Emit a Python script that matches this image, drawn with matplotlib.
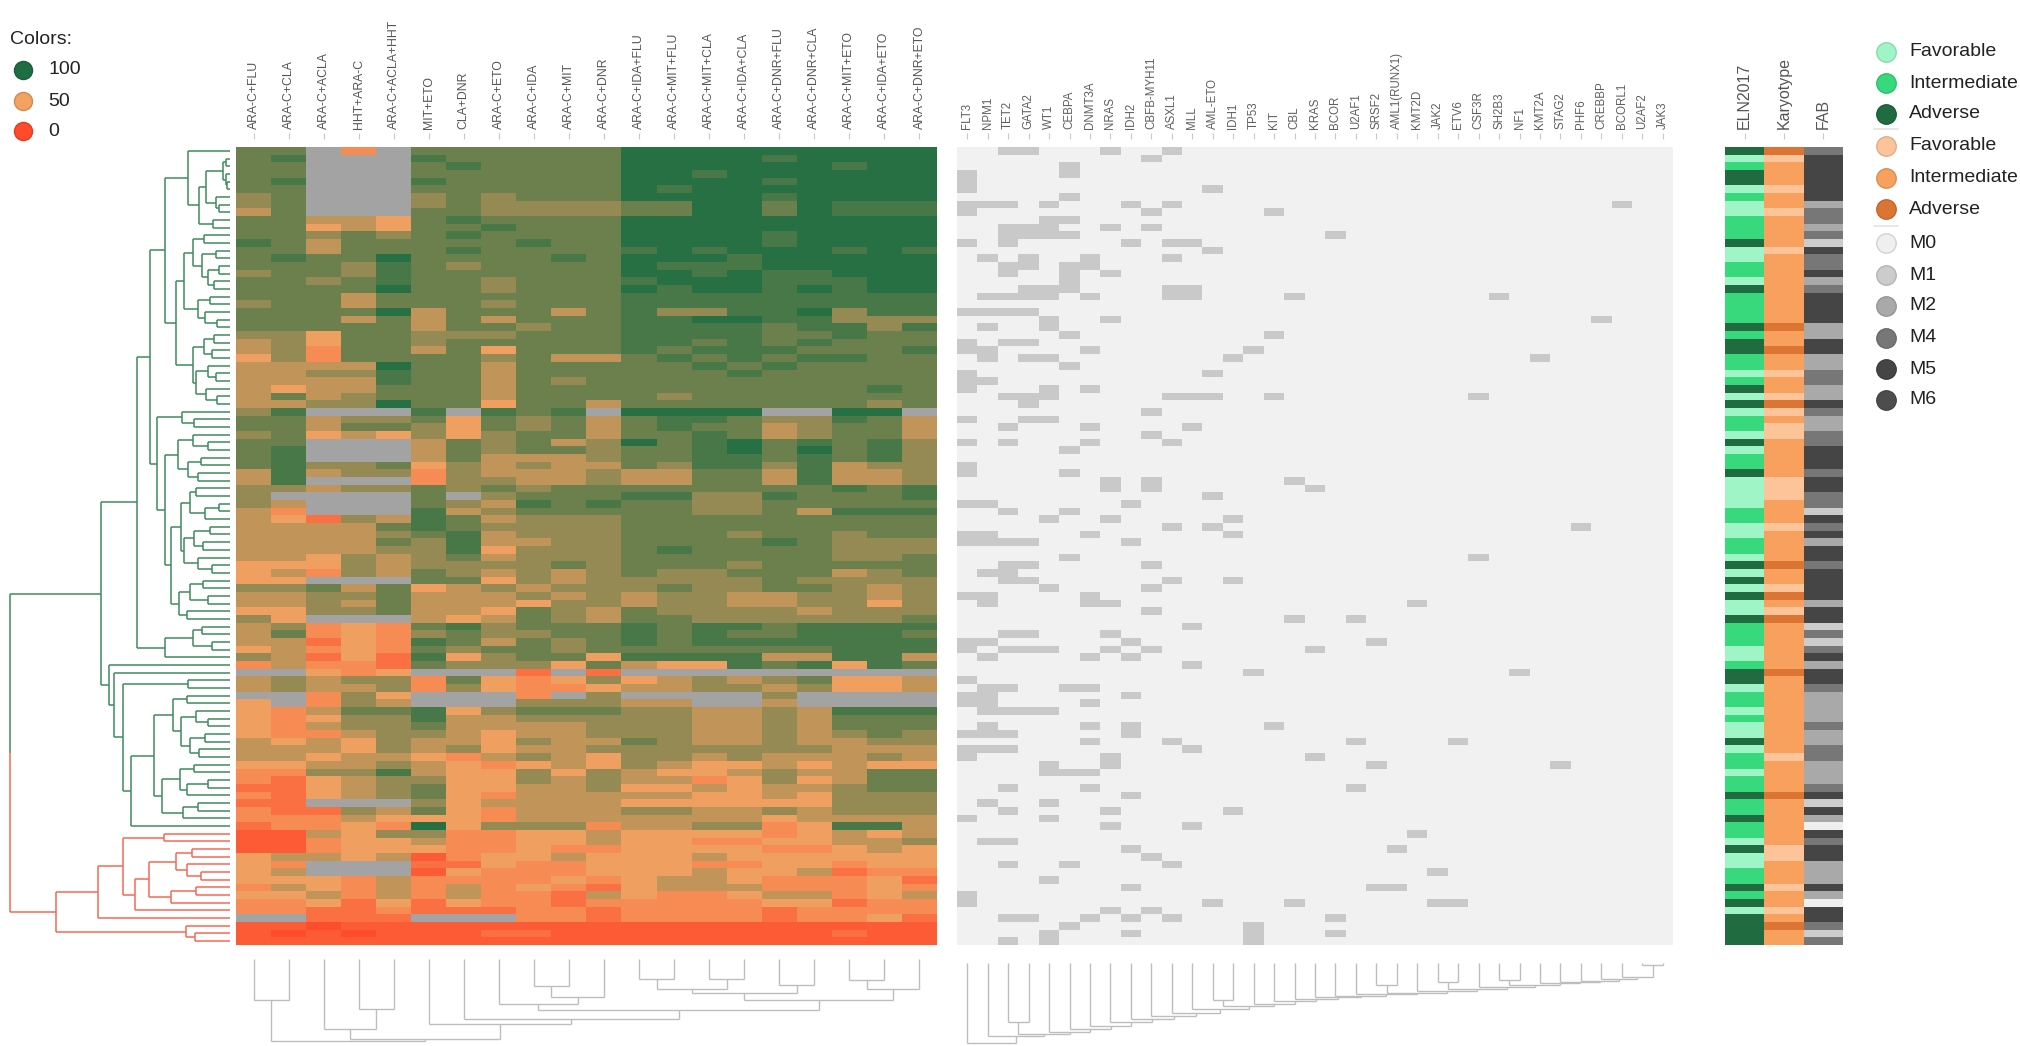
import numpy as np
import matplotlib
matplotlib.use('Agg')
import matplotlib.pyplot as plt
from matplotlib.colors import LinearSegmentedColormap, to_rgb
from matplotlib.collections import LineCollection

plt.rcParams['font.family'] = ['Liberation Sans', 'DejaVu Sans']

# ---------------- data ----------------
DRUGS = ['ARA-C+FLU', 'ARA-C+CLA', 'ARA-C+ACLA', 'HHT+ARA-C', 'ARA-C+ACLA+HHT',
         'MIT+ETO', 'CLA+DNR', 'ARA-C+ETO', 'ARA-C+IDA', 'ARA-C+MIT', 'ARA-C+DNR',
         'ARA-C+IDA+FLU', 'ARA-C+MIT+FLU', 'ARA-C+MIT+CLA', 'ARA-C+IDA+CLA',
         'ARA-C+DNR+FLU', 'ARA-C+DNR+CLA', 'ARA-C+MIT+ETO', 'ARA-C+IDA+ETO',
         'ARA-C+DNR+ETO']

# response level per cell (digit -> value via LEVEL_VALUES), 'x' = missing
LEVEL_VALUES = {'0': 2, '1': 10, '2': 22, '3': 38, '4': 51, '5': 62,
                '6': 72, '7': 82, '8': 90, '9': 98}
DRUG_ROWS = [
    "77x3x777777999999999", "78xxx877777999989999", "77xxx787777999999899",
    "77xxx777777998999999", "78xxx877777999989999", "77xxx777777989999999",
    "67xxx676777999989999", "67xxx676666779979888", "57xxx776666779979888",
    "77554787777999999999", "77454778777999999999", "77676787777999989999",
    "87577777877999989999", "77577787777898999898", "78779777787999899999",
    "77768767777988899999", "67768777777998988999", "77678776777899988899",
    "77779776777989989899", "77757777777888888888", "67757776777888888888",
    "77779577757866889688", "77757575777889988666", "77777577677888878868",
    "66477666777888877877", "56477677777887878777", "56377574777878887778",
    "46377776755787878877", "55559775777778787777", "55668775777777877777",
    "55558775767777777777", "54557775777777777787", "57567775777767777777",
    "55669774775777777767", "68xxx8x878x9999xx99x", "77566747675788766875",
    "77577647675787756775", "67454646775778756775", "77xxx576756978978786",
    "78xxx576776778979786", "78xxx575556778878786", "78667465655768868566",
    "58566365556557758556", "58xxx366556557758556", "66566767677777777878",
    "6xxxx7x6777886687778", "65xxx765878776677777", "53xxx856777776675888",
    "54265875666777777777", "55557876666777777777", "55556785666777677677",
    "55557685566777787666", "55556684666787777666", "55465675666777777667",
    "44465666676777677777", "45365765656766777567", "44xxx774656666676666",
    "66757456566676677656", "55667555656566556656", "55657555466566556646",
    "44667554765766665666", "64xxx545765776666667", "56343786777878878888",
    "57343676677878778887", "55243875767878888888", "45343767767777777888",
    "65242846774888855885", "35332766647544878487", "xx434xxx2x2xxxxxxxxx",
    "56566374346456567445", "56556364334556656445", "xx364xxx3x6xxxx6xxxx",
    "4x365xxx66655xx5xxxx", "43577846777665565888", "43466855666665565777",
    "43566755556665565777", "43356654556665565676", "54546554655765565566",
    "55546564556666666555", "55455435654665655565", "44556543454654454544",
    "33668544646544565577", "32456644656553464577", "22456744556445455677",
    "32456743555554454666", "22xxx645555444444666", "32265743555665565666",
    "33354443555555545555", "23343946663556634885", "11546633445444434545",
    "11344533445443344556", "11344433433444433454", "45545134454445444444",
    "43xxx224334443344344", "45xxx143334445445233", "44435333343455433342",
    "35435353432455533343", "44535353325433455345", "33424243323333344233",
    "33223222332333323333", "xx222xxx332333323342", "11011111111111111111",
    "10101112211111111211", "11111111111111111111",
]

MUTATIONS = ['FLT3', 'NPM1', 'TET2', 'GATA2', 'WT1', 'CEBPA', 'DNMT3A', 'NRAS', 'IDH2',
             'CBFB-MYH11', 'ASXL1', 'MLL', 'AML-ETO', 'IDH1', 'TP53', 'KIT', 'CBL', 'KRAS',
             'BCOR', 'U2AF1', 'SRSF2', 'AML1(RUNX1)', 'KMT2D', 'JAK2', 'ETV6', 'CSF3R',
             'SH2B3', 'NF1', 'KMT2A', 'STAG2', 'PHF6', 'CREBBP', 'BCORL1', 'U2AF2', 'JAK3']

# mutated gene indices per patient row
MUT_ROWS = [
    [2, 3, 7, 10], [9], [5], [0, 5], [0], [0, 12], [5], [0, 1, 2, 4, 8, 10, 32],
    [0, 9, 15], [4, 5], [2, 3, 4, 7, 9], [2, 3, 4, 5, 18], [0, 2, 8, 10, 11], [12],
    [1, 3, 6, 10], [2, 3, 5, 6], [2, 5, 7], [5], [3, 4, 5, 10, 11],
    [1, 2, 3, 4, 6, 10, 11, 16, 26], [], [0, 1, 2, 3], [4, 7, 31], [1, 4], [5, 15],
    [0, 2, 3], [0, 1, 6, 14], [1, 3, 4, 13, 28], [5], [0, 12], [0, 1], [0, 4, 6],
    [2, 3, 4, 10, 11, 12, 15, 25], [3], [9], [0, 3, 4], [2, 6, 11], [9], [0, 2, 6, 10],
    [5], [], [0], [0, 5], [7, 9, 16], [7, 9, 17], [12], [0, 1, 8], [2, 5], [4, 7, 13],
    [10, 12, 30], [0, 1, 6, 13], [0, 1, 2, 3, 8], [], [5, 25], [2, 3, 9], [1, 2],
    [2, 3, 10, 13], [4, 9], [0, 1, 6], [1, 6, 7, 22], [9], [16, 19], [11], [2, 3, 7],
    [0, 1, 8, 20], [0, 2, 3, 4, 7, 9, 17], [1, 6, 8], [11], [14, 27], [0], [1, 2, 5, 6],
    [0, 1, 8], [0, 1, 6], [1, 2, 3, 4], [], [1, 6, 8, 15], [0, 1, 2, 8], [6, 10, 19, 24],
    [0, 1, 2, 11], [0, 7, 17], [4, 7, 20, 29], [4, 5, 6], [], [2, 6, 19], [8], [1, 4],
    [2, 7, 13], [0, 4], [7, 11], [22], [1, 2], [8, 21], [9], [2, 5, 10], [23], [4],
    [8, 20, 21], [0], [0, 12, 16, 23, 24], [7, 9], [2, 3, 6, 8, 10, 18], [5, 14],
    [4, 8, 14, 18], [2, 4, 14],
]

TRACKS = ['ELN2017', 'Karyotype', 'FAB']
ELN2017 = ("AFIAAFIFFI" "IIAFFIIFAI" "IIIAIAAIIF" "IAFAFIIFAF" "IIAFFFFIIF"
           "FIIFAFAFAF" "FAIIIFFIAA" "FIIFIFFAFI" "IFIIAIIAII" "FAFFIIAIAF" "AAAA")
KARYOTYPE = ("AFIIIFIIFI" "IIIFIIIIII" "IIIAIIAIIF" "IIFAFIFFII" "IIIFFFIIIF"
             "IIIIAIIFAI" "FAIIIIIIAI" "IIIIIIIIIF" "IIIIAIIIII" "IFFIIIFIIF" "IAII")
FAB = ("4555555244" "2415445245" "5552255224" "4225422445" "5545544154"
       "5255455552" "5514145255" "4222242244" "2224515205" "4552225205" "5414")

ELN_COLORS = {'F': '#9ff5c6', 'I': '#38d87c', 'A': '#216b40'}
KARYO_COLORS = {'F': '#fdc49a', 'I': '#f8a15f', 'A': '#dc7433'}
FAB_COLORS = {'0': '#efefef', '1': '#cccccc', '2': '#a9a9a9', '4': '#777777',
              '5': '#454545', '6': '#4d4d4d'}
RISK_NAMES = ['Favorable', 'Intermediate', 'Adverse']
FAB_NAMES = ['M0', 'M1', 'M2', 'M4', 'M5', 'M6']

SCALE_TICKS = [100, 50, 0]

# dendrograms: [merge height, left, right], leaves = indices
RED_TREE = [483,
            [368,
             [298,
              [183, 89, 90],
              [263,
               [225,
                [150, [105, 91, 92], [120, 93, [80, 94, 95]]],
                [165, [95, 96, 97], 98]],
               99]],
             100],
            [123, 101, [98, 102, 103]]]
ND = [85, [68, [20, [12, 1, 2], [10, 3, [8, 4, 5]]], [40, 6, [30, 7, 8]]], [48, 9, 10]]
NB = [116, 0, ND]
NC1 = [128, [103, [73, 11, 12], [78, [40, 13, 14], [60, [30, 15, 16], [45, 17, 18]]]],
       [90, [55, 19, 20], [70, 21, [35, 22, 23]]]]
NC2 = [103, [73, [45, 24, 25], [50, 26, 27]], [95, [60, 28, [40, 29, 30]], [68, 31, [35, 32, 33]]]]
NA = [181, NB, [151, NC1, NC2]]
NE1 = [133, 34, [100, 35, 36]]
NE2A = [146, [103, 37, [60, 38, 39]], [118, [80, 40, 41], [90, 42, 43]]]
NE2B1 = [135, [110, [95, 44, 45], [70, [30, 46, 47], 48]],
         [128, [100, [55, 49, 50], [75, 51, 52]], [90, 53, [50, 54, 55]]]]
NE2B2 = [143, [110, [75, 56, 57], [60, 58, 59]], [120, 60, 61]]
NE = [203, NE1, [181, NE2A, [165, NE2B1, NE2B2]]]
G1 = [258, [223, NA, NE], [181, [103, [78, 62, 63], [50, 64, 65]], 66]]
G2E = [158, [120, 71, 72], [135, [95, 73, [60, 74, 75]], [110, [70, 76, 77], [85, 78, 79]]]]
G2F = [190, [140, [100, 80, 81], [120, [60, 82, 83], 84]], [130, [90, 85, 86], 87]]
G2 = [338, 67, [323, 68, [298, [118, 69, 70], [276, [211, G2E, G2F], 88]]]]
GREEN_TREE = [360, G1, G2]
ROOT_HEIGHT = 611

DRUG_TREE = [210, [105, 0, 1],
             [205, [177, 2, [127, 3, 4]],
              [165, 5,
               [153, 6,
                [130,
                 [113, 7, [97, [67, 8, 9], 10]],
                 [105,
                  [87, [75, [50, 11, 12], [50, 13, 14]], [65, 15, 16]],
                  [75, [52, 17, 18], 19]]]]]]]

MUT_TREE = [205, 0, [185, 1, [180, [150, 2, 3], [176, 4, [168, 5, [160, 6, [150, 7,
            [143, 8, [136, 9, [127, 10, [118, 11, [110, [95, 12, 13], [103, 14, [97, 15,
            [92, 16, [87, 17, [83, 18, [79, 19, [75, [55, 20, 21], [70, 22, [65, [48, 23, 24],
            [60, 25, [56, [42, 26, 27], [50, 28, [47, 29, [44, 30, [40, 31, [35, 32,
            [3, 33, 34]]]]]]]]]]]]]]]]]]]]]]]]]]]]]

# ---------------- figure ----------------
W, H = 2020, 1046
fig = plt.figure(figsize=(W / 100, H / 100), dpi=100)


def ax_px(x0, y0, x1, y1):
    a = fig.add_axes([x0 / W, 1 - y1 / H, (x1 - x0) / W, (y1 - y0) / H])
    for s in a.spines.values():
        s.set_visible(False)
    return a


def tree_segments(node):
    if isinstance(node, int):
        return node + 0.5, 0.0, []
    h, a, b = node
    pa, ha, sa = tree_segments(a)
    pb, hb, sb = tree_segments(b)
    segs = sa + sb + [[(ha, pa), (h, pa)], [(h, pa), (h, pb)], [(hb, pb), (h, pb)]]
    return (pa + pb) / 2.0, h, segs


def top_labels(ax, labels, size, color):
    ax.set_xticks(np.arange(len(labels)) + 0.5)
    ax.set_xticklabels(labels)
    ax.xaxis.set_ticks_position('top')
    ax.spines['top'].set_position(('outward', 6))
    ax.tick_params(axis='x', top=True, bottom=False, labeltop=True, labelbottom=False,
                   length=4, width=0.8, color='#c8c8c8', pad=3,
                   labelrotation=90, labelsize=size, labelcolor=color)
    ax.set_yticks([])


TOP, BOT = 147, 945
NROW = len(DRUG_ROWS)

# colour scale
cmap = LinearSegmentedColormap.from_list(
    'resp', [(0.0, '#ff4a2b'), (0.5, '#f4a261'), (1.0, '#1f6e43')])
cmap.set_bad('#a3a3a3')


def decode(row):
    row = (row + 'x' * 20)[:20]
    return [np.nan if ch == 'x' else LEVEL_VALUES[ch] for ch in row]


resp = np.ma.masked_invalid(np.array([decode(r) for r in DRUG_ROWS], dtype=float))

# heatmap
axh = ax_px(236, TOP, 937, BOT)
axh.imshow(resp, cmap=cmap, vmin=0, vmax=100, aspect='auto', interpolation='nearest',
           extent=(0, len(DRUGS), NROW, 0))
axh.set_xlim(0, len(DRUGS))
axh.set_ylim(NROW, 0)
top_labels(axh, DRUGS, 8.8, '#555555')

# mutation matrix
mut = np.zeros((NROW, len(MUTATIONS)))
for i, genes in enumerate(MUT_ROWS):
    for g in genes:
        mut[i, g] = 1
axm = ax_px(957, TOP, 1673, BOT)
axm.imshow(mut, cmap=LinearSegmentedColormap.from_list('m', ['#f1f1f1', '#c9c9c9']),
           vmin=0, vmax=1, aspect='auto', interpolation='nearest',
           extent=(0, len(MUTATIONS), NROW, 0))
axm.set_xlim(0, len(MUTATIONS))
axm.set_ylim(NROW, 0)
top_labels(axm, MUTATIONS, 8.3, '#5e5e5e')

# annotation tracks
rgb = np.zeros((NROW, 3, 3))
for i in range(NROW):
    rgb[i, 0] = to_rgb(ELN_COLORS[ELN2017[i]])
    rgb[i, 1] = to_rgb(KARYO_COLORS[KARYOTYPE[i]])
    rgb[i, 2] = to_rgb(FAB_COLORS[FAB[i]])
axt = ax_px(1725, TOP, 1843, BOT)
axt.imshow(rgb, aspect='auto', interpolation='nearest', extent=(0, 3, NROW, 0))
axt.set_xlim(0, 3)
axt.set_ylim(NROW, 0)
top_labels(axt, TRACKS, 11.5, '#555555')

# left dendrogram
GREEN_C, RED_C = '#3f8c5e', '#f26a55'
axd = ax_px(9, TOP, 230, BOT)
pg, hg, sg = tree_segments(GREEN_TREE)
pr, hr, sr = tree_segments(RED_TREE)
mid = (pg + pr) / 2.0
sg = sg + [[(hg, pg), (ROOT_HEIGHT, pg)], [(ROOT_HEIGHT, pg), (ROOT_HEIGHT, mid)]]
sr = sr + [[(hr, pr), (ROOT_HEIGHT, pr)], [(ROOT_HEIGHT, pr), (ROOT_HEIGHT, mid)]]
axd.add_collection(LineCollection(sg, colors=GREEN_C, linewidths=1.1))
axd.add_collection(LineCollection(sr, colors=RED_C, linewidths=1.1))
axd.set_xlim(ROOT_HEIGHT + 4, 0)
axd.set_ylim(NROW, 0)
axd.set_xticks([])
axd.set_yticks([])

# bottom dendrograms
GREY = '#bdbdbd'
axdd = ax_px(236, 959, 937, 1043)
_, hd, sd = tree_segments(DRUG_TREE)
axdd.add_collection(LineCollection([[(p, h) for h, p in s] for s in sd],
                                   colors=GREY, linewidths=1.0))
axdd.set_xlim(0, len(DRUGS))
axdd.set_ylim(hd + 4, -1)
axdd.set_xticks([])
axdd.set_yticks([])

axmd = ax_px(957, 963, 1673, 1045)
_, hm, sm = tree_segments(MUT_TREE)
axmd.add_collection(LineCollection([[(p, h) for h, p in s] for s in sm],
                                   colors=GREY, linewidths=1.0))
axmd.set_xlim(0, len(MUTATIONS))
axmd.set_ylim(hm + 4, -1)
axmd.set_xticks([])
axmd.set_yticks([])

# legends (overlay in pixel coordinates)
axo = fig.add_axes([0, 0, 1, 1])
axo.set_xlim(0, W)
axo.set_ylim(H, 0)
axo.axis('off')


def darker(c, f=0.85):
    r, g, b = to_rgb(c)
    return (r * f, g * f, b * f)


axo.text(10, 40, 'Colors:', fontsize=14, va='center', ha='left', color='#222222')
for v, y in zip(SCALE_TICKS, [70, 101, 131]):
    c = cmap(v / 100.0)
    axo.plot(23, y, 'o', ms=13, mfc=c, mec=darker(c), mew=1.0)
    axo.text(48, y, str(v), fontsize=14, va='center', ha='left', color='#222222')

ys = [52, 83, 114, 146, 178, 209, 243, 275, 306, 338, 369, 400]
cols = [ELN_COLORS['F'], ELN_COLORS['I'], ELN_COLORS['A'],
        KARYO_COLORS['F'], KARYO_COLORS['I'], KARYO_COLORS['A']] + \
       [FAB_COLORS[k] for k in ['0', '1', '2', '4', '5', '6']]
names = RISK_NAMES + RISK_NAMES + FAB_NAMES
for y, c, n in zip(ys, cols, names):
    axo.plot(1886, y, 'o', ms=14, mfc=c, mec=darker(c, 0.88), mew=1.0)
    axo.text(1909, y, n, fontsize=14, va='center', ha='left', color='#222222')
for y in [129, 226]:
    axo.plot([1874, 1898], [y, y], color='#e3e3e3', lw=1.2)

fig.savefig('out.png', dpi=100)
